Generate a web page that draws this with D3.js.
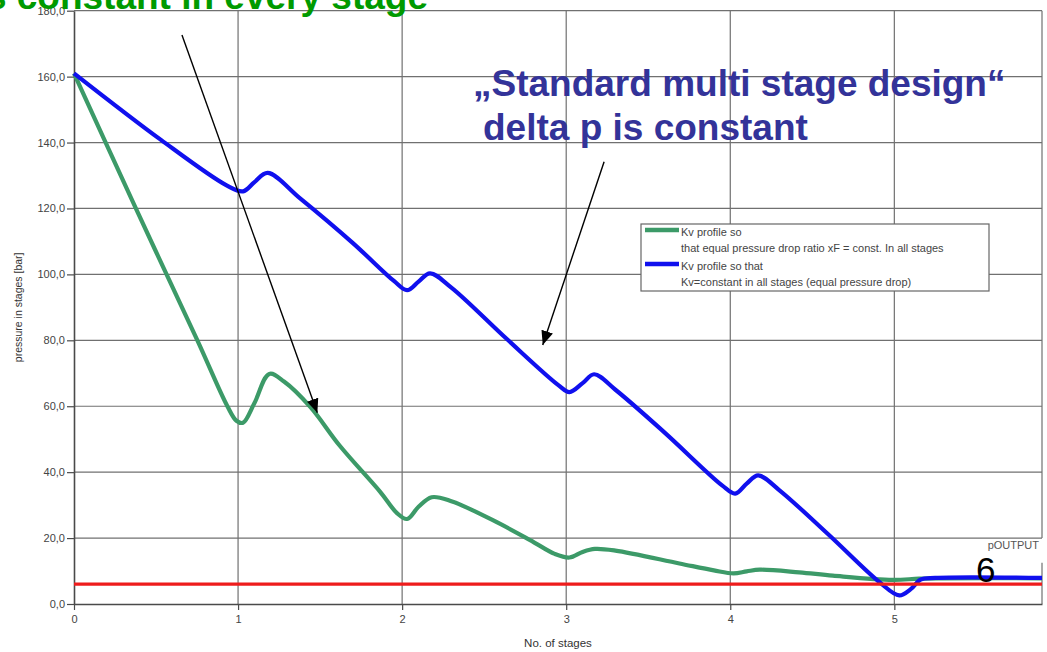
<!DOCTYPE html>
<html>
<head>
<meta charset="utf-8">
<script src="https://cdn.jsdelivr.net/npm/d3@7.9.0/dist/d3.min.js"></script>
<style>
  body { margin: 0; background: #fff; overflow: hidden; }
  svg { display: block; font-family: Arial, "Liberation Sans", sans-serif; }
</style>
</head>
<body>
<svg id="chart" width="1047" height="652"></svg>
<script>
// ---- data ----
const stageTicks = [0, 1, 2, 3, 4, 5];
const pressureTicks = [0, 20, 40, 60, 80, 100, 120, 140, 160, 180];

// Kv profile so that equal pressure drop ratio xF = const. (green)
const greenSeries = [
  [0, 161], [0.377, 120], [0.752, 80], [0.935, 60],
  [0.99, 55.6], [1.03, 55], [1.1, 61], [1.19, 69.8], [1.28, 67.5], [1.44, 59.8],
  [1.62, 48], [1.865, 34.1], [1.97, 27.5], [2.03, 25.8], [2.1, 29.5], [2.18, 32.4],
  [2.3, 31.2], [2.55, 25.5], [2.78, 19.4], [2.93, 15.2], [3.02, 14.1], [3.1, 15.8],
  [3.175, 16.7], [3.3, 16.2], [3.69, 12.3], [3.9, 10.2], [4.02, 9.3], [4.1, 9.9],
  [4.18, 10.4], [4.42, 9.6], [4.625, 8.6], [4.99, 7.3], [5.15, 7.7], [5.3, 7.8], [5.9, 7.8]
];

// Kv profile so that Kv = constant (blue)
const blueSeries = [
  [0, 161], [0.53, 140.8], [0.93, 127], [1.03, 125.2], [1.1, 128],
  [1.18, 130.8], [1.38, 123], [1.7, 109.5], [1.95, 98], [2.03, 95.2], [2.1, 97.8],
  [2.17, 100.3], [2.3, 96], [2.64, 80.3], [2.95, 66.5], [3.02, 64.3], [3.1, 67],
  [3.17, 69.7], [3.3, 65], [3.6, 52], [3.95, 36], [4.03, 33.5], [4.1, 36.5],
  [4.17, 39], [4.3, 34.5], [4.6, 21], [4.91, 6.6], [5.03, 2.6], [5.1, 4.5],
  [5.16, 7.4], [5.25, 7.9], [5.9, 7.9]
];

const outputPressure = 6;   // red pOUTPUT line
const stageMax = 5.9;

// annotation arrows, [from, to] in data units
const arrows = [
  [[0.658, 172.6], [1.483, 58.0]],
  [[3.231, 134.2], [2.857, 78.6]]
];

const legendItems = [
  { color: '#3c9a68', lines: ['Kv profile so', 'that equal pressure drop ratio xF = const. In all stages'] },
  { color: '#1010ee', lines: ['Kv profile so that', 'Kv=constant in all stages (equal pressure drop)'] }
];

// ---- layout ----
const margin = { top: 10.7, right: 5, bottom: 48, left: 74 };
const W = 1047, H = 652;

const svg = d3.select('#chart');

const x = d3.scaleLinear().domain([0, stageMax]).range([margin.left, W - margin.right]);
const y = d3.scaleLinear().domain([0, 180]).range([H - margin.bottom, margin.top]);

// grid
svg.append('g')
  .selectAll('line')
  .data(pressureTicks.filter(d => d > 0))
  .join('line')
  .attr('x1', x(0)).attr('x2', x(stageMax))
  .attr('y1', d => y(d)).attr('y2', d => y(d))
  .attr('stroke', '#707070').attr('stroke-width', 1.2);

svg.append('g')
  .selectAll('line')
  .data(stageTicks.filter(d => d > 0))
  .join('line')
  .attr('x1', d => x(d)).attr('x2', d => x(d))
  .attr('y1', y(180)).attr('y2', y(0))
  .attr('stroke', '#707070').attr('stroke-width', 1.2);

// right border, broken where the pOUTPUT label sits
svg.append('line')
  .attr('x1', x(stageMax)).attr('x2', x(stageMax))
  .attr('y1', y(180)).attr('y2', y(20))
  .attr('stroke', '#707070').attr('stroke-width', 1.2);
svg.append('line')
  .attr('x1', x(stageMax)).attr('x2', x(stageMax))
  .attr('y1', y(12.5)).attr('y2', y(0))
  .attr('stroke', '#707070').attr('stroke-width', 1.2);

// axes
const yAxis = svg.append('g')
  .attr('transform', `translate(${x(0)},0)`)
  .call(d3.axisLeft(y).tickValues(pressureTicks).tickSize(7).tickSizeOuter(0).tickPadding(2)
    .tickFormat(d => d.toFixed(1).replace('.', ',')));

const xAxis = svg.append('g')
  .attr('transform', `translate(0,${y(0)})`)
  .call(d3.axisBottom(x).tickValues(stageTicks).tickSize(6).tickSizeOuter(0).tickPadding(5)
    .tickFormat(d3.format('d')));

[yAxis, xAxis].forEach(g => {
  g.select('.domain').attr('stroke', '#4a4a4a').attr('stroke-width', 1.6);
  g.selectAll('.tick line').attr('stroke', '#4a4a4a').attr('stroke-width', 1.2);
  g.selectAll('.tick text').attr('fill', '#444').style('font-size', '11px');
});

svg.append('text')
  .attr('x', x(2.95))
  .attr('y', H - 5)
  .attr('text-anchor', 'middle')
  .attr('fill', '#333')
  .style('font-size', '11.5px')
  .text('No. of stages');

svg.append('text')
  .attr('transform', `translate(22,${(y(0) + y(180)) / 2}) rotate(-90)`)
  .attr('text-anchor', 'middle')
  .attr('fill', '#333')
  .style('font-size', '10.5px')
  .text('pressure in stages [bar]');

// series
const line = d3.line().x(d => x(d[0])).y(d => y(d[1])).curve(d3.curveCatmullRom.alpha(0.5));

svg.append('path')
  .datum(greenSeries)
  .attr('fill', 'none')
  .attr('stroke', legendItems[0].color)
  .attr('stroke-width', 4.2)
  .attr('stroke-linejoin', 'round')
  .attr('d', line);

svg.append('path')
  .datum(blueSeries)
  .attr('fill', 'none')
  .attr('stroke', legendItems[1].color)
  .attr('stroke-width', 4.2)
  .attr('stroke-linejoin', 'round')
  .attr('d', line);

svg.append('line')
  .attr('x1', x(0)).attr('x2', x(stageMax))
  .attr('y1', y(outputPressure)).attr('y2', y(outputPressure))
  .attr('stroke', '#ee1c1c').attr('stroke-width', 3.2);

// legend
const lg = svg.append('g').attr('transform', 'translate(641,224)');
lg.append('rect')
  .attr('width', 348).attr('height', 67)
  .attr('fill', '#fff').attr('stroke', '#666').attr('stroke-width', 1.2);
legendItems.forEach((it, i) => {
  const g = lg.append('g').attr('transform', `translate(0,${i * 34})`);
  g.append('line')
    .attr('x1', 4).attr('x2', 38).attr('y1', 6).attr('y2', 6)
    .attr('stroke', it.color).attr('stroke-width', 4.5);
  it.lines.forEach((t, j) => {
    g.append('text')
      .attr('x', 40).attr('y', 8 + j * 16.5)
      .attr('dy', '0.35em')
      .attr('fill', '#444')
      .style('font-size', '11px')
      .text(t);
  });
});

// pOUTPUT label
svg.append('text')
  .attr('x', x(stageMax) - 3).attr('y', y(16.8))
  .attr('text-anchor', 'end')
  .attr('fill', '#555')
  .style('font-size', '11px')
  .text('pOUTPUT');

svg.append('text')
  .attr('x', 976).attr('y', 582)
  .attr('fill', '#000')
  .style('font-size', '35px')
  .text('6');

// arrows
svg.append('defs').append('marker')
  .attr('id', 'head')
  .attr('viewBox', '0 0 14 12')
  .attr('refX', 14).attr('refY', 6)
  .attr('markerWidth', 14).attr('markerHeight', 12)
  .attr('markerUnits', 'userSpaceOnUse')
  .attr('orient', 'auto')
  .append('path')
  .attr('d', 'M0,0 L14,6 L0,12 Z')
  .attr('fill', '#000');

arrows.forEach(([a, b]) => {
  svg.append('line')
    .attr('x1', x(a[0])).attr('y1', y(a[1]))
    .attr('x2', x(b[0])).attr('y2', y(b[1]))
    .attr('stroke', '#000').attr('stroke-width', 1.4)
    .attr('marker-end', 'url(#head)');
});

// slide captions
svg.append('text')
  .attr('x', 428).attr('y', 9)
  .attr('text-anchor', 'end')
  .attr('fill', '#009a00')
  .style('font-size', '37px').style('font-weight', 'bold')
  .text('xF is constant in every stage');

const cap = svg.append('text')
  .attr('fill', '#333399')
  .style('font-size', '37px').style('font-weight', 'bold');
cap.append('tspan').attr('x', 473).attr('y', 96).text('\u201EStandard multi stage design\u201C');
cap.append('tspan').attr('x', 483).attr('y', 140).text('delta p is constant');
</script>
</body>
</html>
